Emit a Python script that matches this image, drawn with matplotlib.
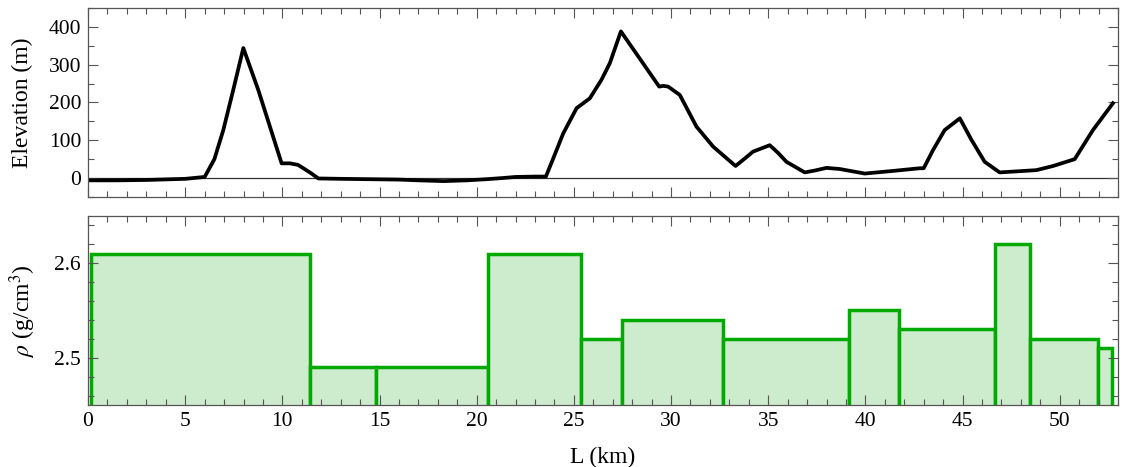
import matplotlib
matplotlib.use("Agg")
import matplotlib.pyplot as plt
from matplotlib.ticker import MultipleLocator

# Elevation profile (km, m)
dist_km = [0.0, 1.5, 3.0, 5.0, 6.0, 6.5, 6.96, 7.47, 7.99, 8.76, 9.96, 10.39, 10.8, 11.08, 11.5, 11.85,
           13.0, 14.5, 16.0, 17.0, 18.3, 19.5, 20.5, 21.3, 22.0, 23.0, 23.56,
           24.0, 24.45, 25.14, 25.82, 26.42, 26.85, 27.42, 29.39, 29.6, 29.85, 30.45, 31.31, 32.17, 33.32,
           33.8, 34.22, 35.08, 35.5, 35.94, 36.88, 37.4, 38.0, 38.68, 39.97, 41.43, 42.8, 43.0,
           43.48, 44.08, 44.86, 45.46, 46.14, 46.91, 48.8, 49.66, 50.77, 51.71, 52.74]
elev_m = [-6, -6, -5, -2, 3, 50, 127, 233, 344, 233, 39, 39, 35, 26, 12, -1,
          -2, -3, -4, -6, -8, -6, -3, 0, 3, 4, 4,
          60, 118, 185, 211, 260, 304, 388, 242, 244, 242, 220, 136, 83, 32,
          52, 70, 87, 67, 43, 15, 20, 27, 24, 12, 19, 26, 26,
          74, 127, 158, 101, 43, 15, 21, 32, 50, 127, 198]

# Density blocks
block_left = [0.15, 11.42, 14.81, 20.56, 25.36, 27.49, 32.65, 39.16, 41.75, 46.69, 48.49, 51.99]
block_right = [11.42, 14.81, 20.56, 25.36, 27.49, 32.65, 39.16, 41.75, 46.69, 48.49, 51.99, 52.69]
density = [2.61, 2.49, 2.49, 2.61, 2.52, 2.54, 2.52, 2.55, 2.53, 2.62, 2.52, 2.51]

plt.rcParams['font.family'] = ['Liberation Serif', 'DejaVu Serif']
plt.rcParams['mathtext.fontset'] = 'stix'

fig = plt.figure(figsize=(11.26, 4.67), dpi=100)
ax1 = fig.add_axes([0.0782, 0.5782, 0.9147, 0.4047])
ax2 = fig.add_axes([0.0782, 0.1328, 0.9147, 0.4047])

frame_col = '#555555'
for ax in (ax1, ax2):
    for s in ax.spines.values():
        s.set_color(frame_col)
        s.set_linewidth(0.9)
    ax.set_xlim(0, 53)
    ax.xaxis.set_major_locator(MultipleLocator(5))
    ax.xaxis.set_minor_locator(MultipleLocator(1))
    ax.tick_params(which='both', direction='in', top=True, right=True, color=frame_col,
                   labelsize=15.5, width=0.8)
    ax.tick_params(which='major', length=7, pad=5)
    ax.tick_params(which='minor', length=4)

# Top panel
ax1.plot(dist_km, elev_m, color='black', lw=2.7, solid_joinstyle='round')
ax1.axhline(0, color='#333333', lw=0.9, zorder=1)
ax1.set_ylim(-50, 450)
ax1.yaxis.set_minor_locator(MultipleLocator(50))
ax1.set_yticks([0, 100, 200, 300, 400])
ax1.tick_params(labelbottom=False)
ax1.set_ylabel('Elevation (m)', fontsize=17)

# Bottom panel
widths = [r - l for l, r in zip(block_left, block_right)]
ax2.bar(block_left, density, width=widths, align='edge', color='#cdebcd',
        edgecolor='#00aa00', linewidth=2.5)
ax2.set_ylim(2.45, 2.65)
ax2.set_yticks([2.5, 2.6])
ax2.set_yticklabels(['2.5', '2.6'])
ax2.yaxis.set_minor_locator(MultipleLocator(0.02))
ax2.set_ylabel(r'$\rho$ (g/cm$^3$)', fontsize=17)
ax2.set_xlabel('L (km)', fontsize=17)
ax1.yaxis.set_label_coords(-0.053, 0.5)
ax2.yaxis.set_label_coords(-0.049, 0.5)
ax2.xaxis.set_label_coords(0.5, -0.22)

fig.savefig('out.png', dpi=100)
